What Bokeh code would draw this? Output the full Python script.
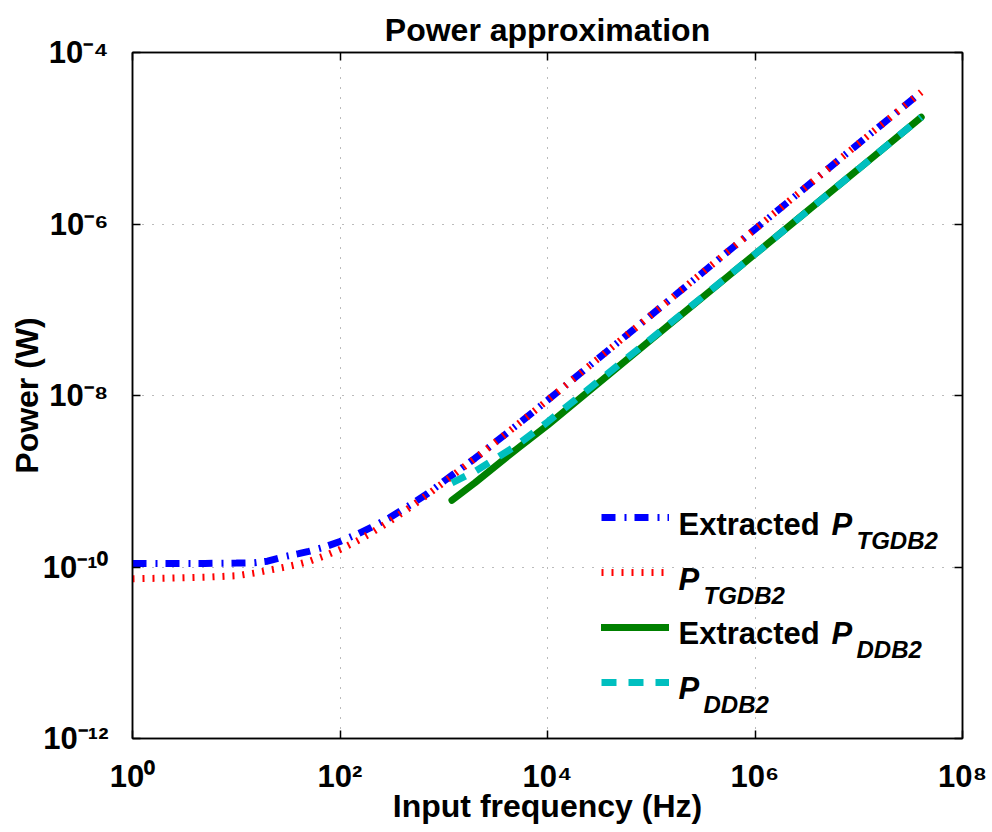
from bokeh.plotting import figure
from bokeh.models import FixedTicker, LogAxis, Legend, LegendItem, Label, Range1d
from bokeh.embed import file_html
from bokeh.resources import INLINE

# ---------------- data ----------------
freq_tgdb2 = [1, 2, 5, 10, 15, 20, 30, 40, 50, 70, 100, 150, 200, 300, 500, 700,
              1e3, 2e3, 5e3, 1e4, 1e5, 1e6, 1e7, 4e7]
p_tgdb2_extracted = [1.10e-10, 1.10e-10, 1.10e-10, 1.11e-10, 1.12e-10, 1.17e-10, 1.33e-10, 1.43e-10,
                     1.52e-10, 1.70e-10, 1.98e-10, 2.45e-10, 2.90e-10, 3.75e-10, 5.5e-10, 7.2e-10,
                     1.0e-9, 1.85e-9, 4.45e-9, 8.8e-9, 8.7e-8, 8.7e-7, 8.7e-6, 3.45e-5]
p_tgdb2_model = [7.3e-11, 7.4e-11, 7.6e-11, 7.9e-11, 8.5e-11, 9.1e-11, 1.0e-10, 1.08e-10,
                 1.16e-10, 1.34e-10, 1.6e-10, 2.05e-10, 2.5e-10, 3.4e-10, 5.2e-10, 7.0e-10,
                 9.7e-10, 1.85e-9, 4.45e-9, 8.8e-9, 8.7e-8, 8.7e-7, 8.7e-6, 3.45e-5]
freq_ddb2 = [1.2e3, 2e3, 5e3, 1e4, 1e5, 1e6, 1e7, 4e7]
p_ddb2_extracted = [6.0e-10, 9.6e-10, 2.35e-9, 4.5e-9, 4.5e-8, 4.45e-7, 4.4e-6, 1.76e-5]
p_ddb2_model = [9.6e-10, 1.3e-9, 2.6e-9, 4.9e-9, 4.6e-8, 4.45e-7, 4.4e-6, 1.76e-5]

x_ticks = [1.0, 1e2, 1e4, 1e6, 1e8]
x_tick_labels = ["10\u2070", "10\u00b2", "10\u2074", "10\u2076", "10\u2078"]
y_ticks = [1e-12, 1e-10, 1e-8, 1e-6, 1e-4]
y_tick_labels = ["10\u207b\u00b9\u00b2", "10\u207b\u00b9\u2070", "10\u207b\u2078",
                 "10\u207b\u2076", "10\u207b\u2074"]

title_text = "Power approximation"
x_label = "Input frequency (Hz)"
y_label = "Power (W)"
legend_prefix = ["Extracted", "", "Extracted", ""]
legend_symbol = "P"
legend_sub = ["TGDB2", "TGDB2", "DDB2", "DDB2"]

FONT = "Liberation Sans"

# ---------------- figure ----------------
p = figure(width=992, height=832, x_axis_type="log", y_axis_type="log",
           x_range=Range1d(1, 1e8), y_range=Range1d(1e-12, 1e-4),
           output_backend="svg", toolbar_location=None,
           min_border_left=132, min_border_right=30, min_border_top=52, min_border_bottom=94,
           title=title_text)

p.title.text_font = FONT
p.title.text_font_size = "32px"
p.title.text_font_style = "bold"
p.title.text_color = "black"
p.title.align = "center"
p.title.standoff = 10

p.outline_line_color = "black"
p.outline_line_width = 1.5
p.background_fill_color = "white"
p.border_fill_color = "white"

# main axes
for ax, ticks, labels in ((p.xaxis[0], x_ticks, x_tick_labels), (p.yaxis[0], y_ticks, y_tick_labels)):
    ax.ticker = FixedTicker(ticks=ticks)
    ax.major_label_overrides = dict(zip(ticks, labels))
    ax.major_tick_in = 8
    ax.major_tick_out = 0
    ax.minor_tick_in = 0
    ax.minor_tick_out = 0
    ax.axis_line_color = "black"
    ax.axis_line_width = 1.5
    ax.major_tick_line_color = "black"
    ax.major_tick_line_width = 1.5
    ax.major_label_text_font = FONT
    ax.major_label_text_font_size = "31px"
    ax.major_label_text_font_style = "bold"
    ax.major_label_text_color = "black"
    ax.axis_label_text_font = FONT
    ax.axis_label_text_font_size = "32px"
    ax.axis_label_text_font_style = "bold"
    ax.axis_label_text_color = "black"

p.xaxis.axis_label = x_label
p.yaxis.axis_label = y_label
p.xaxis.major_label_standoff = 20
p.xaxis.axis_label_standoff = -9
p.yaxis.major_label_standoff = 24
p.yaxis.axis_label_standoff = -5

# mirrored axes (ticks only)
top_ax = LogAxis(ticker=FixedTicker(ticks=x_ticks))
right_ax = LogAxis(ticker=FixedTicker(ticks=y_ticks))
for ax, ticks in ((top_ax, x_ticks), (right_ax, y_ticks)):
    ax.major_label_overrides = {t: "" for t in ticks}
    ax.major_tick_in = 8
    ax.major_tick_out = 0
    ax.minor_tick_in = 0
    ax.minor_tick_out = 0
    ax.major_label_text_font_size = "2px"
    ax.major_label_text_color = None
    ax.major_label_standoff = 0
    ax.axis_line_color = "black"
    ax.axis_line_width = 1.5
    ax.major_tick_line_color = "black"
    ax.major_tick_line_width = 1.5
p.add_layout(top_ax, "above")
p.add_layout(right_ax, "right")

# grid
p.xgrid.ticker = FixedTicker(ticks=x_ticks)
p.ygrid.ticker = FixedTicker(ticks=y_ticks)
for g in (p.xgrid, p.ygrid):
    g.grid_line_color = "#777777"
    g.grid_line_width = 1
    g.grid_line_dash = "1 9"

# ---------------- series ----------------
r_blue = p.line(freq_tgdb2, p_tgdb2_extracted, line_color="#0000FF", line_width=7,
                line_dash="14 9 2 8", line_cap="butt")
r_red = p.line(freq_tgdb2, p_tgdb2_model, line_color="#FF0000", line_width=7,
               line_dash="2 8", line_cap="butt")
r_green = p.line(freq_ddb2, p_ddb2_extracted, line_color="#008000", line_width=7,
                 line_cap="round")
r_cyan = p.line(freq_ddb2, p_ddb2_model, line_color="#00BFBF", line_width=7,
                line_dash="15 12", line_cap="butt")

# ---------------- legend (samples) ----------------
legend = Legend(items=[LegendItem(label=" ", renderers=[r]) for r in (r_blue, r_red, r_green, r_cyan)],
                location=(469, 46), glyph_width=68, glyph_height=20, label_height=20,
                label_width=5, label_standoff=0, spacing=35, padding=0, margin=0,
                border_line_color=None, background_fill_alpha=0,
                label_text_font_size="4px")
p.add_layout(legend, "center")

# legend texts (frame-relative screen coordinates)
row_base = [214, 159, 105, 50]
for i in range(4):
    yb = row_base[i]
    if legend_prefix[i]:
        p.add_layout(Label(x=546, y=yb, x_units="screen", y_units="screen", text=legend_prefix[i],
                           text_font=FONT, text_font_size="31px", text_font_style="bold",
                           text_baseline="alphabetic", text_align="left", text_color="black"))
        px = 699
    else:
        px = 546
    p.add_layout(Label(x=px, y=yb, x_units="screen", y_units="screen", text=legend_symbol,
                       text_font=FONT, text_font_size="31px", text_font_style="bold italic",
                       text_baseline="alphabetic", text_align="left", text_color="black"))
    p.add_layout(Label(x=px + 25, y=yb - 16, x_units="screen", y_units="screen", text=legend_sub[i],
                       text_font=FONT, text_font_size="24px", text_font_style="bold italic",
                       text_baseline="alphabetic", text_align="left", text_color="black"))

open("out.html", "w").write(file_html(p, INLINE))
